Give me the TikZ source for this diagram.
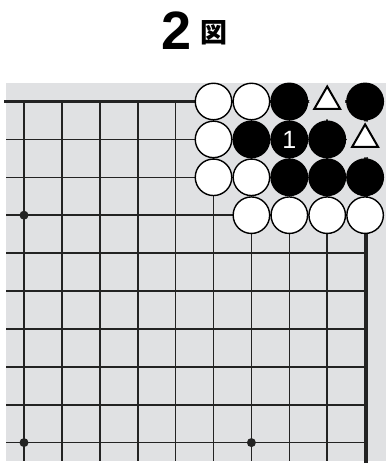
\documentclass[tikz,border=0pt]{standalone}
\usepackage{fontspec}
\setmainfont{Liberation Sans}
\newfontfamily\cjkfont{Noto Sans CJK JP}
\usetikzlibrary{shapes.geometric}
\definecolor{boardgray}{RGB}{224,225,227}
\definecolor{gridline}{RGB}{35,35,35}
\tikzset{
  gridthin/.style={draw=gridline, line width=1.6pt},
  gridedge/.style={draw=gridline, line width=3.6pt},
  stonebase/.style={circle, minimum size=36.5pt, inner sep=0pt, draw=black, line width=1.4pt},
  wst/.style={stonebase, fill=white},
  bst/.style={stonebase, fill=black, text=white, font=\fontsize{25}{25}\selectfont},
  markcover/.style={circle, minimum size=36pt, inner sep=0pt, fill=boardgray},
  trimark/.style={regular polygon, regular polygon sides=3, minimum size=30pt, inner sep=0pt, draw=black, fill=white, line width=2pt},
  hoshi/.style={circle, fill=gridline, minimum size=9pt, inner sep=0pt},
}
\begin{document}
\begin{tikzpicture}[x=1pt, y=-1pt]
\useasboundingbox (0,0) rectangle (386,468);
% title
\node[anchor=base, inner sep=0pt, font=\bfseries\fontsize{54}{54}\selectfont] (num) at (176.5,50) {2};
\node[anchor=base, inner sep=0pt, font=\cjkfont\bfseries\fontsize{27}{27}\selectfont] (zu) at (214,43) {図};
% board
\fill[boardgray] (6,83) rectangle (386,461);
\foreach \r in {1,...,9}{
  \draw[gridthin] (6,{101.5+37.9*\r}) -- (366,{101.5+37.9*\r});
}
\foreach \c in {0,...,8}{
  \draw[gridthin] ({24+37.9*\c},101.5) -- ({24+37.9*\c},461);
}
\draw[gridedge, line cap=rect] (6,101.5) -- (366,101.5) -- (366,461);
% hoshi
\node[hoshi] (h1) at (24,215.2) {};
\node[hoshi] (h2) at (24,442.6) {};
\node[hoshi] (h3) at (251.4,442.6) {};
% stones: column x = 24 + 37.9*c, row y = 101.5 + 37.9*r
% row 0
\node[wst] (w50) at (213.5,101.5) {};
\node[wst] (w60) at (251.4,101.5) {};
\node[bst] (b70) at (289.3,101.5) {};
\node[markcover] (c80) at (327.2,101.5) {};
\node[trimark] (t80) at (327.2,101.5) {};
\node[bst] (b90) at (365.1,101.5) {};
% row 1
\node[wst] (w51) at (213.5,139.4) {};
\node[bst] (b61) at (251.4,139.4) {};
\node[bst] (b71) at (289.3,139.4) {1};
\node[bst] (b81) at (327.2,139.4) {};
\node[markcover] (c91) at (365.1,139.4) {};
\node[trimark] (t91) at (365.1,139.4) {};
% row 2
\node[wst] (w52) at (213.5,177.3) {};
\node[wst] (w62) at (251.4,177.3) {};
\node[bst] (b72) at (289.3,177.3) {};
\node[bst] (b82) at (327.2,177.3) {};
\node[bst] (b92) at (365.1,177.3) {};
% row 3
\node[wst] (w63) at (251.4,215.2) {};
\node[wst] (w73) at (289.3,215.2) {};
\node[wst] (w83) at (327.2,215.2) {};
\node[wst] (w93) at (365.1,215.2) {};
\end{tikzpicture}
\end{document}
